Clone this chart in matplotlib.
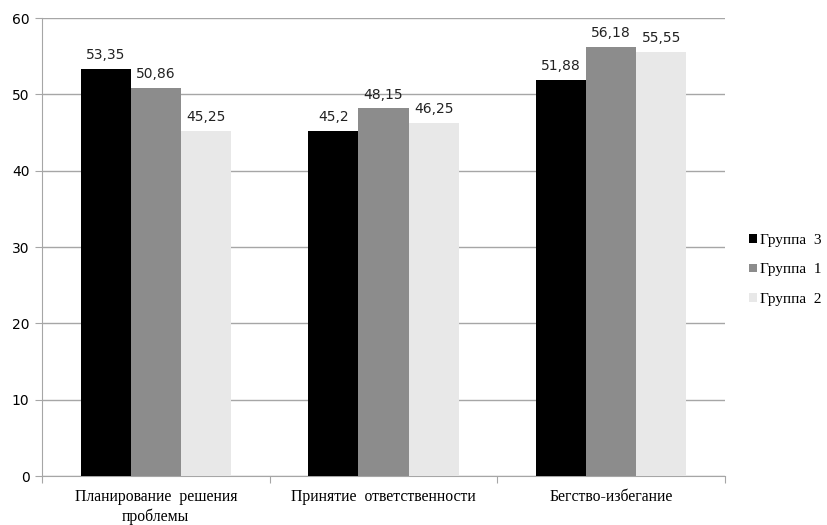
import numpy as np
import matplotlib
matplotlib.use("Agg")
import matplotlib.pyplot as plt

categories = ["Планирование  решения\nпроблемы", "Принятие  ответственности", "Бегство-избегание"]
series_names = ["Группа  3", "Группа  1", "Группа  2"]
group3 = [53.35, 45.2, 51.88]
group1 = [50.86, 48.15, 56.18]
group2 = [45.25, 46.25, 55.55]
colors = ["#000000", "#8c8c8c", "#e8e8e8"]


def fmt(v):
    return f"{v:g}".replace(".", ",")


fig = plt.figure(figsize=(8.28, 5.25), dpi=100)
ax = fig.add_axes([0.0507, 0.0933, 0.8249, 0.8724])

x = np.arange(len(categories))
width = 0.22
offsets = [-width, 0, width]
for vals, name, col, off in zip([group3, group1, group2], series_names, colors, offsets):
    bars = ax.bar(x + off, vals, width, color=col, label=name, zorder=3)
    for b, v in zip(bars, vals):
        ax.text(b.get_x() + b.get_width() / 2, v + 0.9, fmt(v), ha="center", va="bottom",
                fontsize=10, family="DejaVu Sans", color="#222222")

ax.set_xlim(-0.5, len(categories) - 0.5)
ax.set_ylim(0, 60)
ax.set_yticks(range(0, 61, 10))
ax.set_yticklabels([str(t) for t in range(0, 61, 10)], family="DejaVu Sans", fontsize=10)
ax.yaxis.grid(True, color="#a6a6a6", linewidth=1, zorder=0)

ax.set_xticks(np.arange(-0.5, len(categories), 1))
ax.set_xticklabels([])
ax.set_xticks(x, minor=True)
ax.set_xticklabels(categories, minor=True, family="Liberation Serif", fontsize=11.3,
                   linespacing=1.3)
ax.tick_params(axis="x", which="minor", length=0, pad=9)
ax.tick_params(axis="x", which="major", length=5, color="#a6a6a6")
ax.tick_params(axis="y", length=5, color="#a6a6a6", pad=4)

for side in ["top", "right"]:
    ax.spines[side].set_visible(False)
for side in ["left", "bottom"]:
    ax.spines[side].set_color("#a6a6a6")

ax.legend(loc="center left", bbox_to_anchor=(1.015, 0.45), frameon=False,
          prop={"family": "Liberation Serif", "size": 11},
          handlelength=0.5, handleheight=0.5, handletextpad=0.2, labelspacing=1.1)

fig.savefig("out.png", dpi=100)
